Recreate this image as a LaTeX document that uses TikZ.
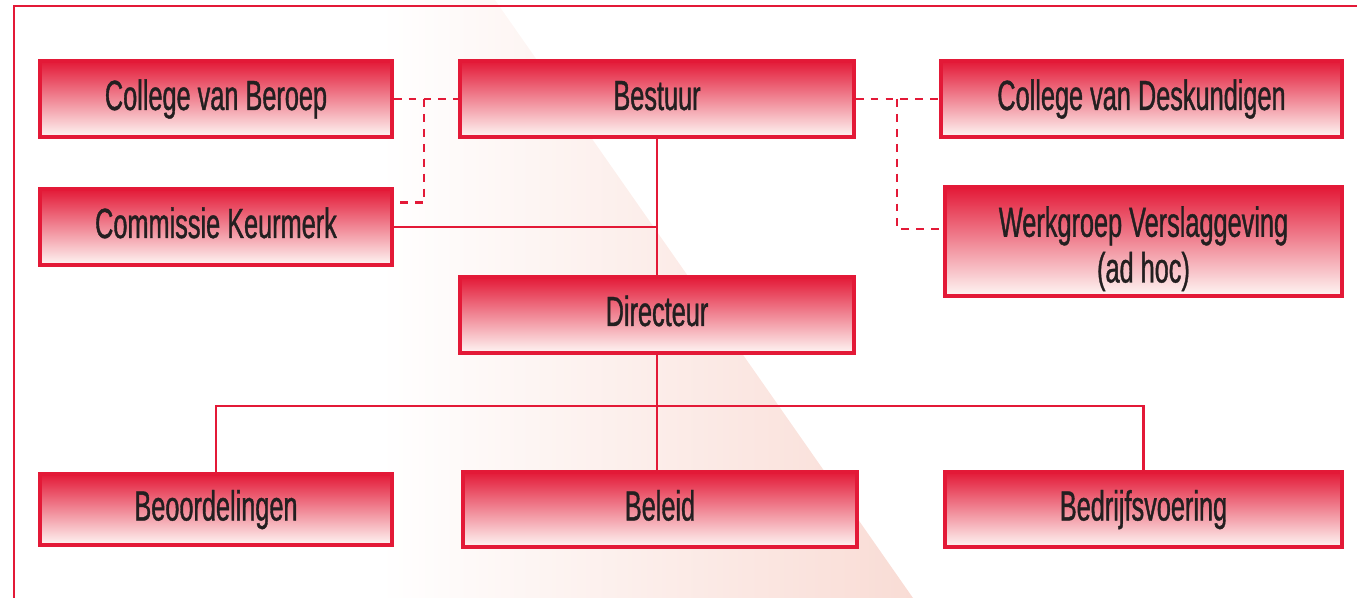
\documentclass[tikz,border=0pt]{standalone}
\usepackage{fontspec}
\setmainfont[FakeStretch=0.6, FakeBold=0.9]{Liberation Sans}
\usetikzlibrary{positioning}

\definecolor{orgred}{HTML}{E31937}
\definecolor{orgsalmon}{HTML}{EE8A7C}
\definecolor{orgpale}{HTML}{FEF6F4}
\definecolor{orgtint}{HTML}{F9DCD5}
\definecolor{orgtext}{HTML}{231F20}

\begin{document}
\begin{tikzpicture}[x=0.02cm, y=-0.02cm,
  unit/.style={draw=orgred, line width=1.9pt, top color=orgred, middle color=orgsalmon,
    bottom color=orgpale, text=orgtext, font=\fontsize{24}{26}\selectfont,
    align=center, inner sep=0pt, minimum height=1.52cm},
  oneline/.style={unit, text height=0.62cm, text depth=0.18cm},
  link/.style={draw=orgred, line width=1.4pt},
  dashlink/.style={link, dash pattern=on 4.5pt off 4pt}]

\useasboundingbox (0,0) rectangle (1357,598);

% background wedge and frame
\shade [left color=white, right color=orgtint] (380,0) -- (495,0) -- (913,598) -- (380,598) -- cycle;
\draw [link] (14,598) -- (14,6) -- (1357,6);

% top row
\node [oneline, minimum width=7.04cm] (beroep) at (216,99) {College van Beroep};
\node [oneline, minimum width=7.88cm] (bestuur) at (657,99) {Bestuur};
\node [oneline, minimum width=8.02cm] (deskundigen) at (1141.5,99) {College van Deskundigen};

% second row
\node [oneline, minimum width=7.04cm] (keurmerk) at (216,227) {Commissie Keurmerk};
\node [unit, minimum width=7.94cm, minimum height=2.18cm] (werkgroep) at (1143.5,241.5)
  {\rule{0pt}{0.9cm}Werkgroep Verslaggeving\\(ad hoc)};
\node [oneline, minimum width=7.88cm] (directeur) at (657,315) {Directeur};

% bottom row
\node [oneline, minimum width=7.04cm, minimum height=1.42cm] (beoordelingen) at (216,509.5) {Beoordelingen};
\node [oneline, minimum width=7.88cm, minimum height=1.5cm] (beleid) at (660,509.5) {Beleid};
\node [oneline, minimum width=7.94cm, minimum height=1.5cm] (bedrijf) at (1143.5,509.5) {Bedrijfsvoering};

% solid lines
\draw [link] (bestuur.south) -- (directeur.north);
\draw [link] (keurmerk.east) -- (keurmerk.east -| bestuur.south);
\coordinate (branch) at (directeur.south |- 0,406);
\draw [link] (directeur.south) -- (directeur.south |- beleid.north);
\draw [link] (beoordelingen.north) |- (branch) -| (bedrijf.north);

% dashed lines
\coordinate (ljoin) at (424,99);
\coordinate (rjoin) at (897,99);
\draw [dashlink] (beroep.east) -- (bestuur.west);
\draw [dashlink] (ljoin) |- ([yshift=-0.3cm]keurmerk.north east);
\draw [dashlink] (bestuur.east) -- (deskundigen.west);
\draw [dashlink] (rjoin) |- ([yshift=0.25cm]werkgroep.west);

\end{tikzpicture}
\end{document}
